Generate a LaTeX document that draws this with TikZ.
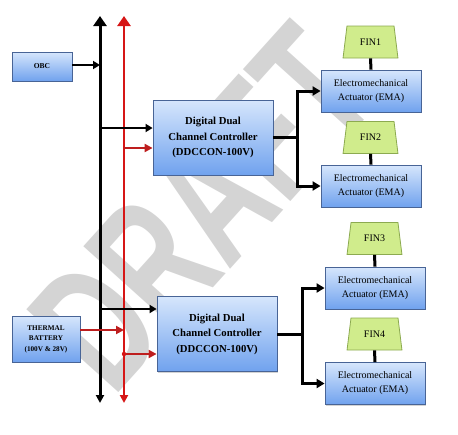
\documentclass[tikz,border=0pt]{standalone}
\usepackage{graphicx}
\usepackage{fontspec}
\setmainfont{Liberation Serif}
\newfontfamily\wmfont{Liberation Sans}
\usetikzlibrary{shapes.geometric,arrows.meta,shadows}
\definecolor{boxtop}{RGB}{214,230,252}
\definecolor{boxbot}{RGB}{112,162,238}
\definecolor{boxedge}{RGB}{72,100,150}
\definecolor{finfill}{RGB}{208,236,140}
\definecolor{finedge}{RGB}{140,170,80}
\definecolor{busred}{RGB}{214,22,22}
\definecolor{arrred}{RGB}{190,30,30}
\definecolor{wmgray}{RGB}{212,212,212}
\tikzset{
  box/.style={draw=boxedge, line width=0.8pt, top color=boxtop, bottom color=boxbot,
    inner sep=0pt, align=center,
    drop shadow={opacity=0.35, shadow xshift=1.2pt, shadow yshift=-1.2pt}},
  ddc/.style={box, minimum width=120pt, minimum height=75pt, font=\fontsize{10.7}{15.5}\selectfont\bfseries},
  ema/.style={box, minimum width=100pt, minimum height=42pt, font=\fontsize{10}{14}\selectfont},
  fin/.style={trapezium, trapezium angle=75, trapezium stretches=true, draw=finedge, line width=0.8pt,
    fill=finfill, minimum width=55pt, minimum height=32pt, inner sep=0pt, font=\fontsize{10}{12}\selectfont},
  blkbus/.style={line width=3pt, {Triangle[width=13pt,length=10pt]}-{Triangle[width=8pt,length=8pt]}},
  redbus/.style={line width=2.8pt, busred, {Triangle[width=13pt,length=10pt]}-{Triangle[width=8pt,length=8pt]}},
  blkarr/.style={line width=1.8pt, -{Triangle[width=8pt,length=7pt]}},
  redarr/.style={line width=2.4pt, arrred, -{Triangle[width=8pt,length=8pt]}},
  outline/.style={line width=3pt},
  outarr/.style={line width=3pt, -{Triangle[width=9pt,length=8pt]}},
  stem/.style={line width=3pt}
}
\begin{document}
\begin{tikzpicture}[x=1pt,y=-1pt]
\useasboundingbox (0,0) rectangle (458,434);
% watermark
\node[wmgray, rotate=48, inner sep=0pt, font=\wmfont\bfseries\fontsize{180}{180}\selectfont] (wm) at (202,208) {\scalebox{0.66}[1]{DRAFT}};
% boxes
\node[box, minimum width=60pt, minimum height=29pt, font=\fontsize{7.5}{9}\selectfont\bfseries] (obc) at (42,66.5) {OBC};
\node[box, minimum width=68pt, minimum height=46pt, font=\fontsize{7.2}{10.5}\selectfont\bfseries] (tb) at (46,339) {THERMAL\\BATTERY\\(100V \& 28V)};
\node[ddc] (ddc1) at (213,137.5) {Digital Dual\\Channel Controller\\(DDCCON-100V)};
\node[ddc] (ddc2) at (217,334) {Digital Dual\\Channel Controller\\(DDCCON-100V)};
\node[ema] (ema1) at (371,91) {Electromechanical\\Actuator (EMA)};
\node[ema] (ema2) at (371,186) {Electromechanical\\Actuator (EMA)};
\node[ema] (ema3) at (375,288) {Electromechanical\\Actuator (EMA)};
\node[ema] (ema4) at (375,383.5) {Electromechanical\\Actuator (EMA)};
\node[fin] (fin1) at (370.5,42) {FIN1};
\node[fin] (fin2) at (370.5,137.5) {FIN2};
\node[fin] (fin3) at (374.5,238.5) {FIN3};
\node[fin] (fin4) at (374.5,334) {FIN4};
% stems
\draw[stem] (fin1.south) -- (ema1.north);
\draw[stem] (fin2.south) -- (ema2.north);
\draw[stem] (fin3.south) -- (ema3.north);
\draw[stem] (fin4.south) -- (ema4.north);
% buses
\coordinate (bt) at (100,16);
\coordinate (bb) at (100,403);
\coordinate (rt) at (124,16);
\coordinate (rb) at (124,403);
\draw[blkbus] (bt) -- (bb);
\draw[redbus] (rt) -- (rb);
% inputs
\coordinate (jo) at (100,65);
\draw[blkarr] (obc.east |- jo) -- (jo);
\coordinate (jr0) at (124,330);
\draw[redarr] (tb.east |- jr0) -- (jr0);
\coordinate (jb1) at (100,128);
\coordinate (jr1) at (124,148);
\draw[blkarr, line width=2.2pt] (jb1) -- (jb1 -| ddc1.west);
\draw[redarr] (jr1) -- (jr1 -| ddc1.west);
\coordinate (jb2) at (100,309);
\coordinate (jr2) at (124,354);
\draw[blkarr, line width=2.2pt] (jb2) -- (jb2 -| ddc2.west);
\draw[redarr] (jr2) -- (jr2 -| ddc2.west);
\fill[busred] (jr2) circle (2.2pt);
% outputs
\coordinate (s1) at (297,137.5);
\draw[outline] (ddc1.east) -- (s1);
\draw[outarr] (s1) |- (ema1.west);
\draw[outarr] (s1) |- (ema2.west);
\coordinate (s2) at (302,334);
\draw[outline] (ddc2.east) -- (s2);
\draw[outarr] (s2) |- (ema3.west);
\draw[outarr] (s2) |- (ema4.west);
\end{tikzpicture}
\end{document}
